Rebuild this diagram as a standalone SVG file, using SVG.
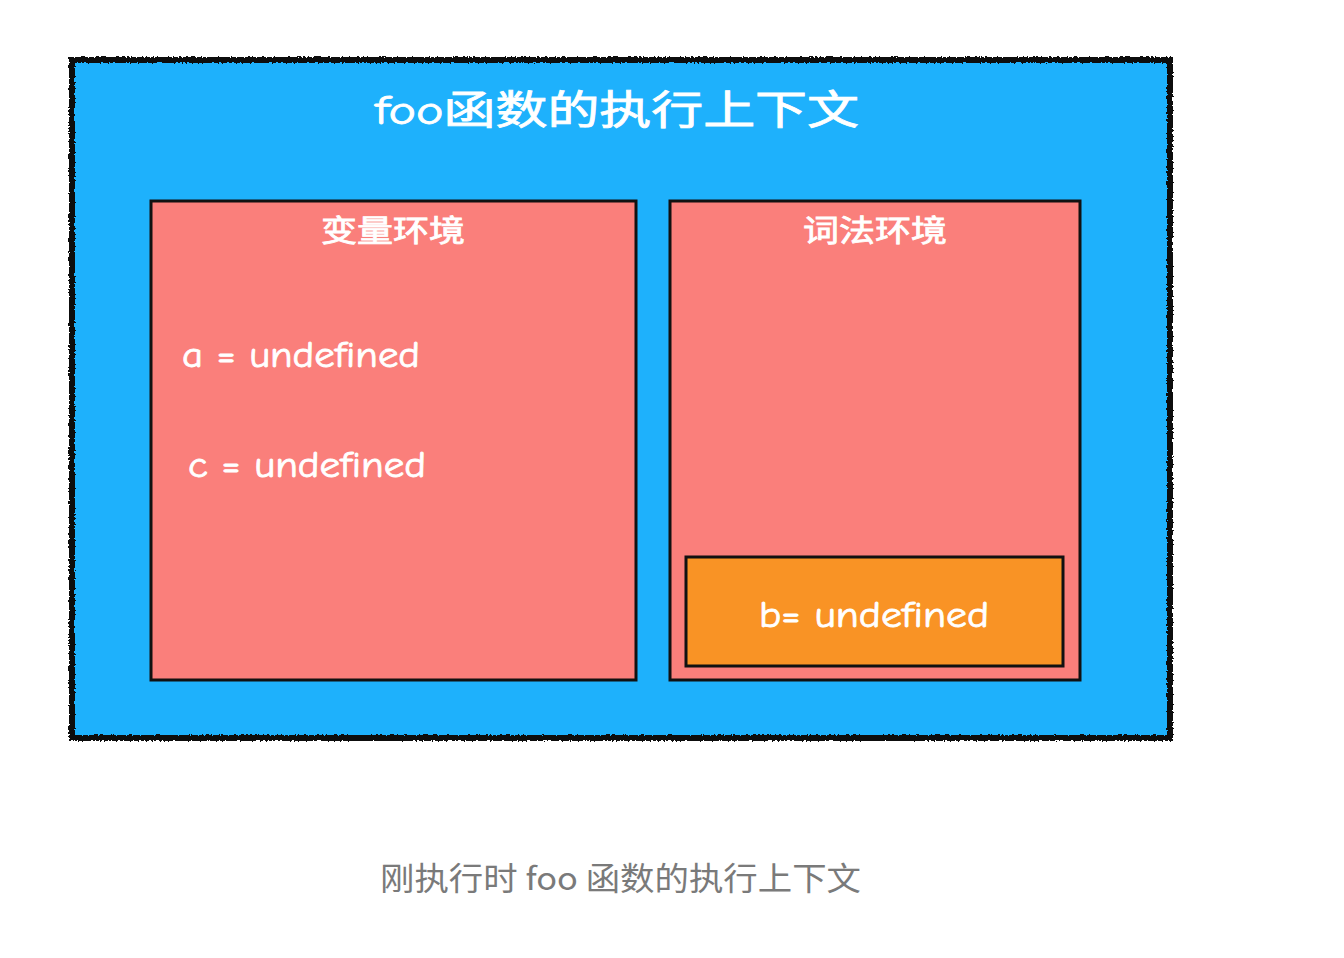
<svg xmlns="http://www.w3.org/2000/svg" width="1344" height="958" viewBox="0 0 1344 958">
<style>
.t{fill:#ffffff;stroke:#ffffff;stroke-width:0.8;font-family:"Comic Neue","Liberation Sans","Noto Sans CJK SC",sans-serif}
.box{stroke:#111111;stroke-width:3}
.cap{fill:#7a7a7a;font-family:"Noto Sans CJK SC","Noto Sans",sans-serif}
</style>
<defs>
<filter id="rough" x="-5%" y="-5%" width="110%" height="110%">
<feTurbulence type="fractalNoise" baseFrequency="0.5" numOctaves="2" seed="3" result="n"/>
<feDisplacementMap in="SourceGraphic" in2="n" scale="4" xChannelSelector="R" yChannelSelector="G"/>
</filter>
</defs>
<rect width="1344" height="958" fill="#ffffff"/>
<g id="context">
<rect x="72" y="60" width="1098" height="678" fill="#1EB1FC"/>
<rect x="72" y="60" width="1098" height="678" fill="none" stroke="#111111" stroke-width="6" filter="url(#rough)"/>
<text class="t" x="617" y="124" font-size="40" text-anchor="middle" textLength="484" lengthAdjust="spacingAndGlyphs">foo函数的执行上下文</text>
</g>
<g id="varenv">
<rect class="box" x="151" y="201" width="485" height="479" fill="#FA7F7B"/>
<text class="t" x="393" y="241" font-size="30" text-anchor="middle" textLength="144" lengthAdjust="spacingAndGlyphs">变量环境</text>
<text class="t" x="182" y="367" font-size="36" textLength="238" lengthAdjust="spacingAndGlyphs">a = undefined</text>
<text class="t" x="188" y="477" font-size="36" textLength="238" lengthAdjust="spacingAndGlyphs">c = undefined</text>
</g>
<g id="lexenv">
<rect class="box" x="670" y="201" width="410" height="479" fill="#FA7F7B"/>
<text class="t" x="875" y="241" font-size="30" text-anchor="middle" textLength="144" lengthAdjust="spacingAndGlyphs">词法环境</text>
</g>
<g id="bvar">
<rect class="box" x="686" y="557" width="377" height="109" fill="#F99325"/>
<text class="t" x="759" y="627" font-size="36" textLength="230" lengthAdjust="spacingAndGlyphs">b= undefined</text>
</g>
<g id="connectors"></g>
<text class="cap" x="380" y="890" font-size="32" textLength="481" lengthAdjust="spacingAndGlyphs">刚执行时 foo 函数的执行上下文</text>
</svg>
